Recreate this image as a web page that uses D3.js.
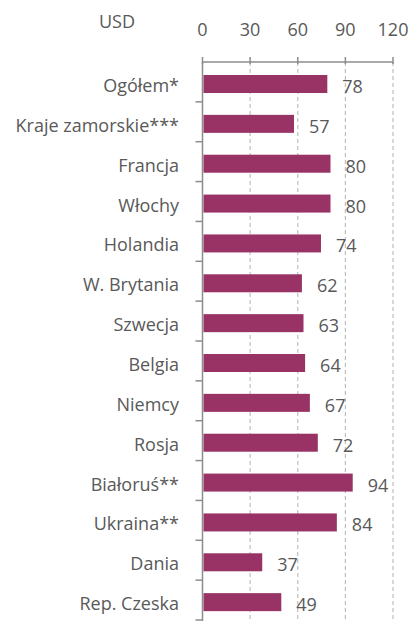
<!DOCTYPE html>
<html lang="pl">
<head>
  <meta charset="utf-8">
  <title>USD</title>
  <script src="https://d3js.org/d3.v7.min.js"></script>
  <style>
    body { margin: 0; background: #fff; }
    text { font-family: "Open Sans", sans-serif; fill: #595959; }
  </style>
</head>
<body>
  <svg id="chart" width="413" height="621"></svg>
  <script>
    const categories = ["Ogółem*", "Kraje zamorskie***", "Francja", "Włochy", "Holandia", "W. Brytania",
      "Szwecja", "Belgia", "Niemcy", "Rosja", "Białoruś**", "Ukraina**", "Dania", "Rep. Czeska"];
    const values = [78, 57, 80, 80, 74, 62, 63, 64, 67, 72, 94, 84, 37, 49];
    const ticks = [0, 30, 60, 90, 120];
    const unit = "USD";

    const svg = d3.select("#chart");
    const x = d3.scaleLinear().domain([0, 120]).range([202.5, 393]);
    const y = d3.scaleBand().domain(categories).range([62, 620]).padding(0);

    // siatka
    svg.append("g").selectAll("line")
      .data(ticks.slice(1))
      .enter().append("line")
      .attr("x1", d => x(d)).attr("x2", d => x(d))
      .attr("y1", 62).attr("y2", 621)
      .attr("stroke", "#bfbfbf")
      .attr("stroke-width", 1.2)
      .attr("stroke-dasharray", "4,3");

    // oś górna
    const topAxis = svg.append("g");
    topAxis.append("line")
      .attr("x1", x(0)).attr("x2", x(120))
      .attr("y1", 62).attr("y2", 62)
      .attr("stroke", "#8c8c8c").attr("stroke-width", 1.5);
    topAxis.selectAll(".tk")
      .data(ticks)
      .enter().append("line")
      .attr("x1", d => x(d)).attr("x2", d => x(d))
      .attr("y1", 57).attr("y2", 64)
      .attr("stroke", "#8c8c8c").attr("stroke-width", 1.5);
    topAxis.selectAll("text")
      .data(ticks)
      .enter().append("text")
      .attr("x", d => x(d))
      .attr("y", 36)
      .attr("text-anchor", "middle")
      .attr("font-size", "18px")
      .text(d => d);

    svg.append("text")
      .attr("x", 117).attr("y", 28)
      .attr("text-anchor", "middle")
      .attr("font-size", "18px")
      .text(unit);

    // oś lewa
    const leftAxis = svg.append("g");
    leftAxis.append("line")
      .attr("x1", x(0)).attr("x2", x(0))
      .attr("y1", 62).attr("y2", 621)
      .attr("stroke", "#8c8c8c").attr("stroke-width", 1.5);
    leftAxis.selectAll(".tk")
      .data(categories)
      .enter().append("line")
      .attr("x1", x(0) - 7).attr("x2", x(0))
      .attr("y1", d => y(d) + y.bandwidth())
      .attr("y2", d => y(d) + y.bandwidth())
      .attr("stroke", "#8c8c8c").attr("stroke-width", 1.5);

    // słupki
    svg.append("g").selectAll("rect")
      .data(values)
      .enter().append("rect")
      .attr("x", x(0) + 1)
      .attr("y", (d, i) => y(categories[i]) + 13)
      .attr("width", d => x(d) - x(0))
      .attr("height", 18)
      .attr("fill", "#993366");

    svg.append("g").selectAll("text")
      .data(values)
      .enter().append("text")
      .attr("x", d => x(d) + 16)
      .attr("y", (d, i) => y(categories[i]) + 31)
      .attr("font-size", "18px")
      .text(d => d);

    svg.append("g").selectAll("text")
      .data(categories)
      .enter().append("text")
      .attr("x", 179)
      .attr("y", d => y(d) + 30)
      .attr("text-anchor", "end")
      .attr("font-size", "18px")
      .text(d => d);
  </script>
</body>
</html>
